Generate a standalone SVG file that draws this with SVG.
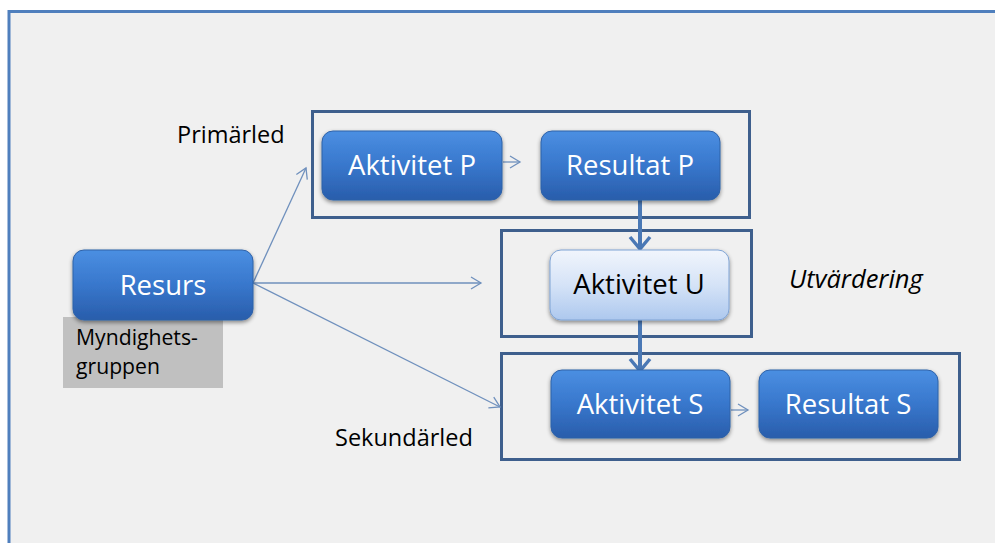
<svg xmlns="http://www.w3.org/2000/svg" width="995" height="543" viewBox="0 0 995 543">
  <defs>
    <linearGradient id="gBlue" x1="0" y1="0" x2="0" y2="1">
      <stop offset="0" stop-color="#4b8fe2"/>
      <stop offset="0.5" stop-color="#3877cc"/>
      <stop offset="1" stop-color="#295dab"/>
    </linearGradient>
    <linearGradient id="gLight" x1="0" y1="0" x2="0" y2="1">
      <stop offset="0" stop-color="#f1f5fc"/>
      <stop offset="0.5" stop-color="#d5e3f7"/>
      <stop offset="1" stop-color="#adc8ee"/>
    </linearGradient>
    <filter id="shadow" x="-10%" y="-10%" width="125%" height="135%">
      <feGaussianBlur in="SourceAlpha" stdDeviation="2"/>
      <feOffset dx="0" dy="2" result="b"/>
      <feComponentTransfer><feFuncA type="linear" slope="0.45"/></feComponentTransfer>
      <feMerge><feMergeNode/><feMergeNode in="SourceGraphic"/></feMerge>
    </filter>
    <marker id="thin" markerUnits="userSpaceOnUse" markerWidth="16" markerHeight="16" viewBox="-12 -8 14 16" refX="0" refY="0" orient="auto">
      <path d="M-10,-6 L0,0 L-10,6" fill="none" stroke="#6f90bd" stroke-width="1.3"/>
    </marker>
    <marker id="thick" markerUnits="userSpaceOnUse" markerWidth="26" markerHeight="26" viewBox="-15 -13 17 26" refX="0" refY="0" orient="auto">
      <path d="M-12,-10 L0,0 L-12,10" fill="none" stroke="#4a78b5" stroke-width="3.5" stroke-linejoin="round"/>
    </marker>
  </defs>
  <style>
    .frame { fill: none; stroke: #3e5f8d; stroke-width: 3; }
    .blue { fill: url(#gBlue); stroke: #2f62a8; stroke-width: 1; filter: url(#shadow); }
    .light { fill: url(#gLight); stroke: #7fa3d4; stroke-width: 1; filter: url(#shadow); }
    .btxt { font-family: "Open Sans", "Liberation Sans", sans-serif; font-size: 27.5px; fill: #ffffff; text-anchor: middle; }
    .ltxt { font-family: "Open Sans", "Liberation Sans", sans-serif; font-size: 27.5px; fill: #000000; text-anchor: middle; }
    .lbl { font-family: "Open Sans", "Liberation Sans", sans-serif; font-size: 23.5px; fill: #000000; }
    .lbl.it { font-style: italic; font-size: 25.5px; }
    .lbl.cap { font-size: 21.2px; }
    .thin { fill: none; stroke: #6f90bd; stroke-width: 1.3; marker-end: url(#thin); }
    .thick { fill: none; stroke: #4a78b5; stroke-width: 4; marker-end: url(#thick); }
  </style>

  <!-- page background and outer border -->
  <rect x="0" y="0" width="995" height="543" fill="#ffffff"/>
  <rect x="9" y="11.5" width="1000" height="560" fill="#f0f0f0" stroke="#4f7fbd" stroke-width="3"/>

  <!-- group frames -->
  <rect class="frame" x="312.5" y="111.5" width="437" height="106"/>
  <rect class="frame" x="501.5" y="230.5" width="250" height="106"/>
  <rect class="frame" x="501.5" y="353.5" width="458" height="106"/>

  <!-- labels -->
  <text class="lbl" x="177" y="143">Primärled</text>
  <text class="lbl" x="335" y="446">Sekundärled</text>
  <text class="lbl it" x="789" y="288">Utvärdering</text>

  <!-- connectors -->
  <g id="connectors">
    <line class="thin" x1="253" y1="283" x2="306" y2="168"/>
    <line class="thin" x1="253" y1="283" x2="481" y2="283"/>
    <line class="thin" x1="253" y1="283" x2="500" y2="407"/>
    <line class="thin" x1="503" y1="162" x2="520" y2="162"/>
    <line class="thin" x1="731" y1="410" x2="748" y2="410"/>
    <line class="thick" x1="640" y1="200" x2="640" y2="249"/>
    <line class="thick" x1="640" y1="320" x2="640" y2="371"/>
  </g>

  <!-- caption under Resurs -->
  <g id="myndighetsgruppen">
    <rect x="63" y="317" width="160" height="71" fill="#c0c0c0"/>
    <text class="lbl cap" x="76" y="345">Myndighets-</text>
    <text class="lbl cap" x="76" y="374">gruppen</text>
  </g>

  <g id="resurs">
    <rect class="blue" x="73" y="250" width="180" height="70" rx="11"/>
    <text class="btxt" x="163" y="295">Resurs</text>
  </g>

  <g id="aktivitet-p">
    <rect class="blue" x="322" y="131" width="180" height="69" rx="11"/>
    <text class="btxt" x="412" y="175">Aktivitet P</text>
  </g>

  <g id="resultat-p">
    <rect class="blue" x="541" y="131" width="179" height="69" rx="11"/>
    <text class="btxt" x="630" y="175">Resultat P</text>
  </g>

  <g id="aktivitet-u">
    <rect class="light" x="550" y="250" width="179" height="70" rx="11"/>
    <text class="ltxt" x="639" y="294">Aktivitet U</text>
  </g>

  <g id="aktivitet-s">
    <rect class="blue" x="551" y="370" width="179" height="68" rx="11"/>
    <text class="btxt" x="640" y="414">Aktivitet S</text>
  </g>

  <g id="resultat-s">
    <rect class="blue" x="759" y="370" width="179" height="68" rx="11"/>
    <text class="btxt" x="848" y="414">Resultat S</text>
  </g>
</svg>
